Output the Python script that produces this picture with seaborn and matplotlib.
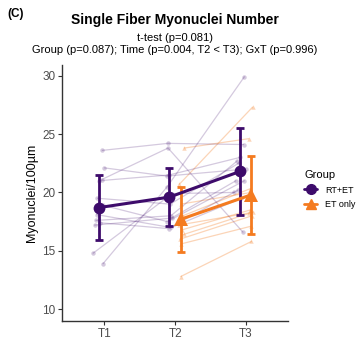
import numpy as np
import pandas as pd
import matplotlib
matplotlib.use("Agg")
import matplotlib.pyplot as plt
from matplotlib.lines import Line2D
import seaborn as sns

sns.set_style("white")
plt.rcParams['font.family'] = ['Liberation Sans', 'DejaVu Sans']
plt.rcParams['text.color'] = 'black'
plt.rcParams['axes.labelcolor'] = 'black'

times = ["T1", "T2", "T3"]
groups = ["RT+ET", "ET only"]

# individual subjects (RT+ET: T1,T2,T3)
rt_t1 = [23.6, 22.1, 21.1, 21.0, 19.5, 18.9, 18.1, 17.6, 17.4, 17.2, 14.8, 13.9]
rt_t2 = [24.2, 21.4, 23.8, 21.5, 19.0, 17.5, 17.0, 18.0, 16.9, 17.8, 19.9, 20.5]
rt_t3 = [24.1, 22.0, 16.6, 23.0, 22.5, 21.0, 20.2, 22.7, 19.5, 21.0, 20.0, 29.9]
# ET only: T2,T3
et_t2 = [23.8, 20.7, 19.0, 18.0, 17.2, 16.8, 16.4, 16.0, 15.6, 12.8]
et_t3 = [24.6, 27.3, 20.0, 20.3, 18.3, 18.5, 18.2, 18.0, 17.1, 15.8]

# summary (mean, SD)
rt_mean = [18.7, 19.6, 21.8]
rt_sd = [2.8, 2.5, 3.7]
et_mean = [17.7, 19.8]
et_sd = [2.8, 3.35]

purple = "#3d0b6b"
orange = "#f47b20"

fig = plt.figure(figsize=(3.57, 3.41), dpi=100)
ax = fig.add_axes([0.174, 0.059, 0.633, 0.750])

jit_rt = [0.05, 0.08, 0.04, 0.0, -0.02, 0.06, -0.03, -0.04, 0.02, -0.06, -0.08, 0.06]
jit_et = [0.05, -0.02, 0.0, 0.03, -0.03, 0.02, 0.04, -0.01, 0.01, 0.0]
dodge = 0.08

rows = []
for i in range(len(rt_t1)):
    for t, v in zip([0, 1, 2], [rt_t1[i], rt_t2[i], rt_t3[i]]):
        rows.append(dict(subj=f"rt{i}", group="RT+ET", x=t - dodge + jit_rt[i] * (1 if t != 1 else -0.5), y=v))
for i in range(len(et_t2)):
    for t, v in zip([1, 2], [et_t2[i], et_t3[i]]):
        rows.append(dict(subj=f"et{i}", group="ET only", x=t + dodge + jit_et[i] * (1 if t == 1 else -0.8), y=v))
ind = pd.DataFrame(rows)

for subj, d in ind.groupby("subj"):
    g = d["group"].iloc[0]
    c = purple if g == "RT+ET" else orange
    m = "o" if g == "RT+ET" else "^"
    a = 0.22 if g == "RT+ET" else 0.32
    sns.lineplot(data=d, x="x", y="y", ax=ax, color=c, alpha=a, lw=0.9,
                 marker=m, markersize=3.2, markeredgewidth=0, sort=False,
                 estimator=None, legend=False)

summ = pd.DataFrame({
    "x": [0 - dodge, 1 - dodge, 2 - dodge, 1 + dodge, 2 + dodge],
    "y": rt_mean + et_mean,
    "sd": rt_sd + et_sd,
    "group": ["RT+ET"] * 3 + ["ET only"] * 2,
})
for g, c, m, ms in [("RT+ET", purple, "o", 8.5), ("ET only", orange, "^", 9.5)]:
    d = summ[summ.group == g]
    ax.errorbar(d["x"], d["y"], yerr=d["sd"], fmt="none", ecolor=c, elinewidth=2,
                capsize=3, capthick=2, zorder=4)
    sns.lineplot(data=d, x="x", y="y", ax=ax, color=c, lw=2.2, marker=m,
                 markersize=ms, markeredgewidth=0, estimator=None, legend=False, zorder=5)

ax.set_xlim(-0.6, 2.6)
ax.set_ylim(9.0, 30.9)
ax.set_xticks([0, 1, 2])
ax.set_xticklabels(times)
ax.set_yticks([10, 15, 20, 25, 30])
ax.tick_params(axis="both", labelsize=8.5, labelcolor="#4d4d4d", length=3, width=0.8,
               color="#333333", left=True, bottom=True, pad=2)
ax.set_xlabel("")
ax.set_ylabel("Myonuclei/100µm", fontsize=9, labelpad=3)
for s in ["top", "right"]:
    ax.spines[s].set_visible(False)
for s in ["left", "bottom"]:
    ax.spines[s].set_color("#333333")
    ax.spines[s].set_linewidth(1.0)

fig.text(0.022, 0.96, "(C)", fontsize=8.5, fontweight="bold", ha="left", va="center")
fig.text(0.49, 0.942, "Single Fiber Myonuclei Number", fontsize=10, fontweight="bold",
         ha="center", va="center")
fig.text(0.49, 0.888, "t-test (p=0.081)", fontsize=8, ha="center", va="center")
fig.text(0.49, 0.852, "Group (p=0.087); Time (p=0.004, T2 < T3); GxT (p=0.996)",
         fontsize=8, ha="center", va="center")

handles = [Line2D([], [], color=purple, marker="o", markersize=7, lw=2),
           Line2D([], [], color=orange, marker="^", markersize=7, lw=2)]
leg = fig.legend(handles, groups, title="Group", loc="upper left",
                 bbox_to_anchor=(0.83, 0.525), frameon=False, fontsize=6.5,
                 title_fontsize=8, handlelength=1.4, handletextpad=0.9,
                 labelspacing=0.6)
leg._legend_box.align = "left"

fig.savefig("out.png", dpi=100)
